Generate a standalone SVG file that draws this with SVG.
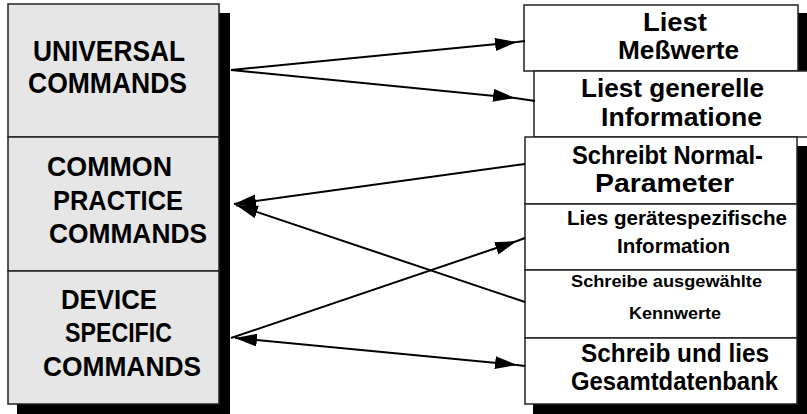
<svg xmlns="http://www.w3.org/2000/svg" width="807" height="414" viewBox="0 0 807 414">
<style>
.shadow{fill:#000}
.lbox{fill:#e6e6e6;stroke:#222;stroke-width:1.5}
.rbox{fill:#fff;stroke:#222;stroke-width:1.5}
text{font-family:"Liberation Sans",Arial,sans-serif;font-weight:bold;fill:#000}
.conn{fill:none;stroke:#000;stroke-width:2}
</style>
<defs>
<marker id="ah" markerUnits="userSpaceOnUse" markerWidth="24" markerHeight="14" refX="22" refY="6.5" orient="auto-start-reverse" viewBox="0 0 24 14">
<path d="M0,0 L22,6.5 L0,13 Z" fill="#000"/>
</marker>
</defs>
<rect class="shadow" x="17" y="13" width="213" height="401"/>
<rect class="shadow" x="533" y="146" width="274" height="268"/>
<rect class="shadow" x="790" y="13" width="17" height="60"/>
<g id="universal">
<rect class="lbox" x="8" y="4" width="211" height="133"/>
<text x="33" y="61" font-size="30" textLength="152" lengthAdjust="spacingAndGlyphs">UNIVERSAL</text>
<text x="28" y="93" font-size="30" textLength="159" lengthAdjust="spacingAndGlyphs">COMMANDS</text>
</g>
<g id="common">
<rect class="lbox" x="8" y="137" width="211" height="134"/>
<text x="47" y="176" font-size="28" textLength="125" lengthAdjust="spacingAndGlyphs">COMMON</text>
<text x="53" y="210" font-size="28" textLength="130" lengthAdjust="spacingAndGlyphs">PRACTICE</text>
<text x="49" y="243" font-size="28" textLength="158" lengthAdjust="spacingAndGlyphs">COMMANDS</text>
</g>
<g id="device">
<rect class="lbox" x="8" y="271" width="211" height="133"/>
<text x="61" y="309" font-size="28" textLength="96" lengthAdjust="spacingAndGlyphs">DEVICE</text>
<text x="65" y="342" font-size="28" textLength="107" lengthAdjust="spacingAndGlyphs">SPECIFIC</text>
<text x="43" y="376" font-size="28" textLength="158" lengthAdjust="spacingAndGlyphs">COMMANDS</text>
</g>
<g id="liest-messwerte">
<rect class="rbox" x="524" y="5" width="274" height="66"/>
<text x="643" y="31" font-size="25" textLength="64" lengthAdjust="spacingAndGlyphs">Liest</text>
<text x="618" y="59" font-size="25" textLength="121" lengthAdjust="spacingAndGlyphs">Meßwerte</text>
</g>
<g id="liest-generelle">
<rect class="rbox" x="534" y="71" width="280" height="66"/>
<text x="581" y="97" font-size="26" textLength="183" lengthAdjust="spacingAndGlyphs">Liest generelle</text>
<text x="601" y="126" font-size="26" textLength="161" lengthAdjust="spacingAndGlyphs">Informatione</text>
</g>
<g id="schreibt-normal">
<rect class="rbox" x="525" y="137" width="272" height="67"/>
<text x="572" y="164" font-size="26" textLength="191" lengthAdjust="spacingAndGlyphs">Schreibt Normal-</text>
<text x="595" y="192" font-size="26" textLength="139" lengthAdjust="spacingAndGlyphs">Parameter</text>
</g>
<g id="lies-geraete">
<rect class="rbox" x="525" y="204" width="272" height="66"/>
<text x="567" y="225" font-size="21" textLength="220" lengthAdjust="spacingAndGlyphs">Lies gerätespezifische</text>
<text x="617" y="253" font-size="21" textLength="113" lengthAdjust="spacingAndGlyphs">Information</text>
</g>
<g id="schreibe-kennwerte">
<rect class="rbox" x="525" y="270" width="272" height="68"/>
<text x="571" y="287" font-size="17" textLength="191" lengthAdjust="spacingAndGlyphs">Schreibe ausgewählte</text>
<text x="629" y="319" font-size="17" textLength="92" lengthAdjust="spacingAndGlyphs">Kennwerte</text>
</g>
<g id="gesamtdatenbank">
<rect class="rbox" x="525" y="338" width="272" height="66"/>
<text x="581" y="362" font-size="26" textLength="188" lengthAdjust="spacingAndGlyphs">Schreib und lies</text>
<text x="571" y="390" font-size="26" textLength="207" lengthAdjust="spacingAndGlyphs">Gesamtdatenbank</text>
</g>
<g id="connectors">
<polyline class="conn" points="231,70 517,42 525,41" marker-mid="url(#ah)"/>
<polyline class="conn" points="231,70 515,98 535,101" marker-mid="url(#ah)"/>
<line class="conn" x1="525" y1="164" x2="234" y2="204" marker-end="url(#ah)"/>
<line class="conn" x1="525" y1="302" x2="236" y2="205" marker-end="url(#ah)"/>
<polyline class="conn" points="231,338 517,241 525,238" marker-mid="url(#ah)"/>
<polyline class="conn" points="235,338 517,365 525,366" marker-start="url(#ah)" marker-mid="url(#ah)"/>
</g>
</svg>
